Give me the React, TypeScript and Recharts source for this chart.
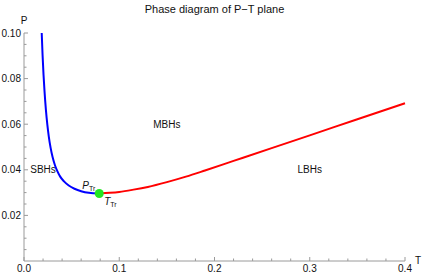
import React from 'react';
import { ComposedChart, Line, Scatter, XAxis, YAxis } from 'recharts';

// coexistence line SBH/MBH (blue) and MBH/LBH (red)
const blueT = [0.0186, 0.0195, 0.0205, 0.0215, 0.023, 0.0245, 0.026, 0.028, 0.03, 0.0325, 0.035, 0.038, 0.042, 0.047, 0.053, 0.06, 0.068, 0.079];
const blueP = [0.1, 0.0903, 0.0817, 0.0747, 0.0663, 0.0598, 0.0547, 0.0495, 0.0456, 0.042, 0.0394, 0.037, 0.0349, 0.0331, 0.0317, 0.0306, 0.0299, 0.0296];

const redT = [0.079, 0.09, 0.1, 0.115, 0.13, 0.15, 0.17, 0.19, 0.22, 0.26, 0.3, 0.35, 0.4];
const redP = [0.0296, 0.0299, 0.0303, 0.0313, 0.0325, 0.0346, 0.037, 0.0397, 0.0439, 0.0495, 0.0551, 0.0622, 0.0692];

const tripleT = 0.079;
const tripleP = 0.0296;

const regionNames = ['SBHs', 'MBHs', 'LBHs'];
const regionT = [0.02, 0.15, 0.3];
const regionP = [0.04, 0.06, 0.04];

const xTicks = [0, 0.02, 0.04, 0.06, 0.08, 0.1, 0.12, 0.14, 0.16, 0.18, 0.2, 0.22, 0.24, 0.26, 0.28, 0.3, 0.32, 0.34, 0.36, 0.38, 0.4];
const yTicks = [0.005, 0.01, 0.015, 0.02, 0.025, 0.03, 0.035, 0.04, 0.045, 0.05, 0.055, 0.06, 0.065, 0.07, 0.075, 0.08, 0.085, 0.09, 0.095, 0.1];

const blueData = blueT.map((t, i) => ({ t, p: blueP[i] }));
const redData = redT.map((t, i) => ({ t, p: redP[i] }));
const tripleData = [{ t: tripleT, p: tripleP }];
const regionData = regionNames.map((name, i) => ({ t: regionT[i], p: regionP[i], name }));

const FONT = '"Liberation Sans", Arial, sans-serif';
const AXIS = '#9a9a9a';
const TEXT = '#111';

const isMultiple = (v: number, step: number) => Math.abs(v / step - Math.round(v / step)) < 1e-6;

function XTick(props: any) {
    const { x, y, payload } = props;
    const v = payload.value as number;
    const major = isMultiple(v, 0.1);
    return (
        <g>
            <line x1={x} x2={x} y1={y} y2={y - (major ? 4 : 2.5)} stroke={AXIS} />
            {major && (
                <text x={x} y={y + 11} textAnchor="middle" fontSize={10} fontFamily={FONT} fill={TEXT}>
                    {v.toFixed(1)}
                </text>
            )}
        </g>
    );
}

function YTick(props: any) {
    const { x, y, payload } = props;
    const v = payload.value as number;
    const major = isMultiple(v, 0.02);
    return (
        <g>
            <line x1={x} x2={x + (major ? 4 : 2.5)} y1={y} y2={y} stroke={AXIS} />
            {major && (
                <text x={x - 3} y={y + 3.6} textAnchor="end" fontSize={10} fontFamily={FONT} fill={TEXT}>
                    {v.toFixed(2)}
                </text>
            )}
        </g>
    );
}

function TripleDot(props: any) {
    const { cx, cy } = props;
    return (
        <g fontFamily={FONT} fill={TEXT}>
            <circle cx={cx} cy={cy} r={4.5} fill="#22e622" />
            <text x={cx - 17} y={cy - 5} fontSize={10}>
                <tspan fontStyle="italic">P</tspan>
                <tspan fontSize={7} dy={2}>Tr</tspan>
            </text>
            <text x={cx + 5} y={cy + 11} fontSize={10}>
                <tspan fontStyle="italic">T</tspan>
                <tspan fontSize={7} dy={2}>Tr</tspan>
            </text>
        </g>
    );
}

function RegionLabel(props: any) {
    const { cx, cy, payload } = props;
    return (
        <text x={cx} y={cy + 3.5} textAnchor="middle" fontSize={10} fontFamily={FONT} fill={TEXT}>
            {payload.name}
        </text>
    );
}

export default function App() {
    return (
        <div style={{ position: 'absolute', left: 0, top: 0, width: 422, height: 276, background: '#fff' }}>
            <ComposedChart width={422} height={276} margin={{ top: 33, right: 17, bottom: 0, left: 0 }}>
                <text x={214.5} y={13} textAnchor="middle" fontSize={11} fontFamily={FONT} fill="#111">
                    Phase diagram of P−T plane
                </text>
                <XAxis
                    type="number"
                    dataKey="t"
                    domain={[0, 0.4]}
                    ticks={xTicks}
                    interval={0}
                    height={15}
                    tickSize={0}
                    tickMargin={0}
                    tickLine={false}
                    stroke={AXIS}
                    tick={<XTick />}
                    label={{
                        content: (p: any) => (
                            <text x={p.viewBox.x + p.viewBox.width + 10} y={p.viewBox.y + 3} fontSize={10} fontFamily={FONT} fill={TEXT}>
                                T
                            </text>
                        ),
                    }}
                />
                <YAxis
                    type="number"
                    dataKey="p"
                    domain={[0, 0.1]}
                    ticks={yTicks}
                    interval={0}
                    width={24}
                    tickSize={0}
                    tickMargin={0}
                    tickLine={false}
                    stroke={AXIS}
                    tick={<YTick />}
                    label={{
                        content: (p: any) => (
                            <text x={p.viewBox.x + p.viewBox.width} y={p.viewBox.y - 9} textAnchor="middle" fontSize={10} fontFamily={FONT} fill={TEXT}>
                                P
                            </text>
                        ),
                    }}
                />
                <Line data={blueData} dataKey="p" type="monotone" stroke="#0000ff" strokeWidth={2} dot={false} isAnimationActive={false} />
                <Line data={redData} dataKey="p" type="monotone" stroke="#ff0000" strokeWidth={2} dot={false} isAnimationActive={false} />
                <Scatter data={tripleData} dataKey="p" shape={<TripleDot />} isAnimationActive={false} />
                <Scatter data={regionData} dataKey="p" shape={<RegionLabel />} isAnimationActive={false} />
            </ComposedChart>
        </div>
    );
}
